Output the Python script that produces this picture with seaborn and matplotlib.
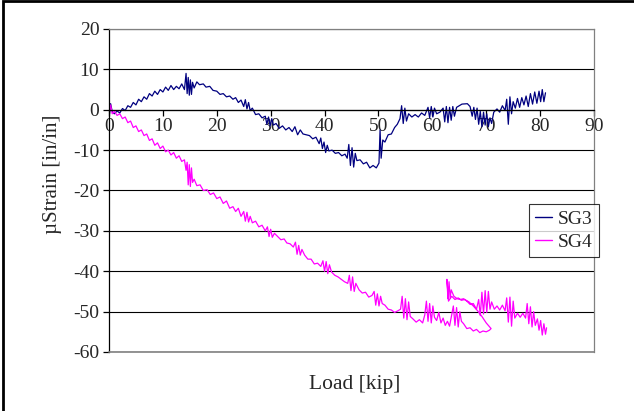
import pandas as pd
import matplotlib
matplotlib.use("Agg")
import matplotlib.pyplot as plt
from matplotlib.patches import Rectangle
import seaborn as sns


# strain gauge readings (load in kip, micro strain)
sg3_load = [0.0, 0.1, 0.3, 0.6, 1.0, 1.5, 2.0, 2.5, 3.0, 3.5, 4.0, 4.5, 5.0, 5.5, 6.0, 6.5,
            7.0, 7.5, 8.0, 8.5, 9.0, 9.5, 10.0, 10.5, 11.0, 11.5, 12.0, 12.5, 13.0, 13.5,
            14.0, 14.3, 14.5, 14.7, 14.9, 15.1, 15.3, 15.5, 15.8, 16.3, 16.8, 17.5, 18.0,
            18.7, 19.3, 20.0, 20.6, 21.2, 21.8, 22.4, 23.0, 23.5, 24.0, 24.5, 25.0, 25.3,
            25.6, 25.9, 26.2, 26.6, 27.2, 27.8, 28.4, 29.0, 29.3, 29.6, 29.9, 30.2, 30.5,
            31.0, 31.6, 32.2, 32.8, 33.4, 34.0, 34.5, 35.0, 35.5, 36.0, 36.6, 37.2, 37.8,
            38.4, 39.0, 39.3, 39.6, 39.9, 40.2, 40.5, 40.8, 41.4, 42.0, 42.6, 43.2, 43.8,
            44.2, 44.5, 44.8, 45.1, 45.4, 45.7, 46.0, 46.6, 47.2, 47.8, 48.4, 49.0, 49.6,
            50.1, 50.3, 50.5, 50.8, 51.2, 51.8, 52.4, 53.0, 53.5, 54.0, 54.3, 54.6, 54.9,
            55.2, 55.6, 56.2, 56.8, 57.4, 58.0, 58.6, 59.2, 59.5, 59.8, 60.1, 60.4, 60.8,
            61.4, 62.0, 62.3, 62.6, 62.9, 63.2, 63.5, 63.8, 64.1, 64.5, 65.5, 66.5, 67.0,
            67.4, 67.7, 68.0, 68.3, 68.6, 68.9, 69.2, 69.5, 69.8, 70.1, 70.4, 70.7, 71.0,
            71.4, 72.0, 72.5, 73.0, 73.5, 73.8, 74.1, 74.4, 74.7, 75.0, 75.4, 75.8, 76.2,
            76.6, 77.0, 77.4, 77.8, 78.2, 78.6, 79.0, 79.4, 79.8, 80.1, 80.4, 80.7, 81.0]
sg3_strain = [2.5, -1.0, 1.5, -0.5, -1.0, -0.3, -0.8, 0.3, -0.2, 1.0, 0.6, 1.8, 1.2, 2.6, 2.0, 3.2,
              2.6, 4.0, 3.4, 4.6, 3.8, 5.0, 4.4, 5.6, 4.8, 6.0, 5.0, 5.8, 5.2, 6.4,
              5.0, 9.0, 4.0, 8.0, 3.6, 7.4, 3.8, 6.8, 5.4, 6.9, 6.2, 6.4, 5.6,
              5.8, 4.8, 4.6, 3.8, 4.0, 3.2, 3.4, 2.6, 3.0, 1.8, 2.4, 0.8, 2.5,
              0.2, 1.8, -0.2, 0.4, -1.2, -1.0, -2.0, -1.6, -3.6, -1.8, -4.0, -2.2, -3.8,
              -3.4, -4.6, -4.0, -5.0, -4.4, -5.4, -4.2, -6.2, -5.0, -6.0, -6.2, -6.4, -7.2,
              -6.8, -8.4, -7.0, -9.6, -8.0, -10.6, -8.8, -10.2, -10.0, -10.8, -10.6, -11.4, -11.0,
              -12.0, -8.6, -13.8, -9.4, -14.2, -10.8, -12.6, -12.4, -13.4, -13.0, -14.4, -13.8, -14.4,
              -13.2, -5.0, -12.0, -7.5, -8.0, -6.2, -6.0, -4.4, -3.6, -2.2, 1.0, -3.4, 0.4,
              -2.8, -1.0, -1.8, -1.2, -1.8, -0.8, -1.4, 0.6, -2.0, 0.8, -1.8, 0.4, -1.0,
              -0.6, 0.4, -3.0, 0.8, -3.2, 0.6, -2.6, 0.8, -1.6, 0.6, 1.4, 1.5, 0.8,
              -1.6, 0.6, -2.4, 0.4, -3.6, -0.4, -4.2, -0.6, -3.8, -1.0, -4.2, -2.0, -3.4,
              -0.6, 0.2, -0.6, 1.0, -0.2, 2.6, -3.6, 3.2, -1.0, 2.0, 0.4, 2.8, 0.6,
              3.0, 1.2, 3.4, 0.8, 4.0, 1.4, 4.4, 1.6, 4.6, 2.0, 5.0, 2.0, 4.2]

sg4_load = [0.0, 0.1, 0.3, 0.6, 1.0, 1.5, 2.0, 2.5, 3.0, 3.5, 4.0, 4.5, 5.0, 5.5, 6.0, 6.5,
            7.0, 7.5, 8.0, 8.5, 9.0, 9.5, 10.0, 10.5, 11.0, 11.5, 12.0, 12.5, 13.0, 13.5,
            14.0, 14.3, 14.5, 14.7, 14.9, 15.1, 15.3, 15.5, 15.8, 16.3, 16.9, 17.5, 18.2,
            18.8, 19.4, 20.0, 20.6, 21.2, 21.8, 22.4, 23.0, 23.5, 24.0, 24.5, 25.0, 25.3,
            25.6, 25.9, 26.2, 26.6, 27.2, 27.8, 28.4, 29.0, 29.4, 29.7, 30.0, 30.3, 30.7,
            31.3, 31.9, 32.5, 33.0, 33.6, 34.2, 34.6, 34.9, 35.2, 35.5, 35.8, 36.3, 36.9,
            37.5, 38.1, 38.7, 39.3, 39.7, 40.0, 40.3, 40.6, 40.9, 41.3, 41.9, 42.5, 43.1,
            43.7, 44.3, 44.6, 44.9, 45.2, 45.5, 45.8, 46.4, 47.0, 47.6, 48.2, 48.8, 49.2,
            49.5, 49.8, 50.1, 50.4, 50.7, 51.2, 51.8, 52.4, 53.0, 53.6, 54.1, 54.4, 54.7,
            55.0, 55.3, 55.6, 55.9, 56.4, 57.0, 57.6, 58.2, 58.6, 58.9, 59.2, 59.5, 59.8,
            60.1, 60.4, 60.8, 61.2, 61.6, 62.0, 62.4, 62.8, 63.2, 63.6, 63.9, 64.2, 64.5,
            64.8, 65.1, 65.4, 65.8, 66.4, 67.0, 67.6, 68.2, 68.8, 69.4, 70.0, 70.6, 70.9,
            70.0, 69.2, 68.4, 67.6, 66.8, 66.0, 65.4, 64.8, 64.2, 63.6, 63.0, 62.7, 62.9,
            63.1, 63.3, 63.5, 64.0, 64.6, 65.2, 65.8, 66.4, 67.0, 67.6, 68.2, 68.6, 68.9,
            69.2, 69.5, 69.8, 70.1, 70.4, 70.7, 71.0, 71.5, 72.0, 72.5, 73.0, 73.5, 73.8,
            74.1, 74.4, 74.7, 75.0, 75.3, 75.8, 76.3, 76.8, 77.3, 77.6, 77.9, 78.2, 78.5,
            78.8, 79.1, 79.5, 79.8, 80.1, 80.4, 80.7, 81.0, 81.2]
sg4_strain = [2.5, -0.5, 1.2, -1.0, -0.4, -1.4, -1.0, -2.2, -1.8, -3.2, -2.8, -4.4, -4.0, -5.4, -5.0, -6.4,
              -6.0, -7.6, -7.2, -8.8, -8.2, -9.6, -9.0, -10.4, -10.0, -11.2, -10.6, -12.0, -11.4, -12.8,
              -12.4, -15.0, -13.0, -18.6, -13.6, -19.0, -14.4, -18.0, -17.2, -18.8, -18.6, -20.0, -19.8,
              -21.0, -20.6, -22.0, -21.6, -23.2, -22.6, -24.4, -24.0, -25.2, -24.4, -26.4, -25.2, -27.6,
              -25.4, -27.8, -26.4, -28.0, -27.6, -29.0, -28.6, -30.0, -29.0, -31.4, -29.6, -31.6, -30.6,
              -31.4, -32.2, -32.0, -33.0, -33.2, -34.0, -32.8, -35.8, -33.6, -36.0, -34.6, -36.0, -37.0,
              -37.0, -38.2, -38.0, -38.8, -37.4, -40.0, -37.6, -40.6, -38.4, -40.2, -41.0, -41.4, -42.0,
              -42.6, -43.0, -41.0, -44.8, -41.4, -45.0, -43.0, -44.6, -45.4, -45.2, -46.4, -46.0, -45.0,
              -48.4, -45.6, -48.6, -46.2, -48.0, -48.4, -49.4, -49.6, -50.2, -49.8, -49.4, -46.2, -51.6,
              -46.8, -52.0, -47.6, -51.2, -51.8, -52.6, -52.0, -52.8, -50.8, -47.4, -52.4, -48.0, -52.8,
              -48.6, -51.4, -52.2, -50.2, -52.8, -51.6, -53.4, -52.4, -53.6, -50.8, -48.6, -53.4, -49.0,
              -53.8, -50.0, -52.4, -53.0, -54.2, -54.0, -54.8, -54.4, -55.2, -54.8, -55.0, -54.6, -54.2,
              -52.8, -51.2, -49.8, -48.6, -47.6, -47.0, -47.2, -46.6, -47.0, -46.2, -47.4, -42.0, -46.8,
              -42.6, -46.6, -44.6, -46.2, -46.8, -47.0, -46.8, -47.4, -48.2, -48.0, -49.4, -47.0, -51.0,
              -45.2, -50.6, -44.8, -50.2, -45.0, -49.4, -47.6, -49.4, -48.6, -49.6, -48.4, -49.8, -46.6,
              -52.6, -46.4, -53.6, -47.4, -51.6, -50.4, -51.4, -50.4, -51.6, -48.0, -53.0, -48.8, -53.8,
              -50.0, -53.4, -51.8, -54.6, -52.2, -55.8, -53.0, -55.6, -54.0]

y_ticks = [20, 10, 0, -10, -20, -30, -40, -50, -60]
x_ticks = [0, 10, 20, 30, 40, 50, 60, 70, 80, 90]


def main():
    series = {
        "SG3": (sg3_load, sg3_strain, "#000080"),
        "SG4": (sg4_load, sg4_strain, "#FF00FF"),
    }

    sns.set_style("white")
    plt.rcParams['font.family'] = ['Liberation Serif', 'DejaVu Serif']
    plt.rcParams['axes.unicode_minus'] = False

    fig = plt.figure(figsize=(6.34, 4.11), dpi=100)
    ax = fig.add_axes([109 / 634, 1 - 352 / 411, 485 / 634, 323 / 411])

    for name, (load, strain, color) in series.items():
        df = pd.DataFrame({"Load": load, "Strain": strain})
        sns.lineplot(data=df, x="Load", y="Strain", sort=False, estimator=None,
                     ax=ax, color=color, linewidth=0.9, label=name)

    ax.set_xlim(0, 90)
    ax.set_ylim(-60, 20)
    ax.set_yticks(y_ticks)
    ax.set_xticks(x_ticks)
    for t in y_ticks:
        ax.axhline(t, color="black", linewidth=0.8, zorder=0)

    ax.spines['left'].set_color("black")
    ax.spines['left'].set_linewidth(0.9)
    ax.spines['bottom'].set_position(('data', 0))
    ax.spines['bottom'].set_color("black")
    ax.spines['bottom'].set_linewidth(0.9)
    for s in ['top', 'right']:
        ax.spines[s].set_color("#808080")
        ax.spines[s].set_linewidth(0.9)
    ax.plot([0, 1], [0, 0], transform=ax.transAxes, color="#808080",
            linewidth=1.2, clip_on=False, zorder=3)

    ax.tick_params(axis='y', direction='out', length=4, width=0.9, color='black',
                   labelsize=14, pad=3, left=True)
    ax.tick_params(axis='x', direction='out', length=4, width=0.9, color='black',
                   labelsize=14, pad=2, bottom=True)

    ax.set_xlabel("Load [kip]", fontsize=15.5)
    ax.xaxis.set_label_coords(0.507, -0.102)
    ax.xaxis.label.set_va('center')
    ax.set_ylabel("µStrain [in/in]", fontsize=15)
    ax.yaxis.set_label_coords(-0.1175, 0.55)
    ax.yaxis.label.set_va('center')

    leg = ax.legend(loc='upper left', bbox_to_anchor=(0.866, 0.458), fontsize=14,
                    frameon=True, fancybox=False, shadow=False, handlelength=0.9,
                    handletextpad=0.3, borderpad=0.3, labelspacing=0.3,
                    borderaxespad=0)
    leg.get_frame().set_edgecolor("black")
    leg.get_frame().set_linewidth(0.8)
    for line in leg.get_lines():
        line.set_linewidth(1.0)

    # outer frame of the chart sheet (only top and left edges fall inside the image)
    fig.patches.append(Rectangle((3 / 634, -0.5), 2.0, 1.5 - 1.5 / 411,
                                 transform=fig.transFigure, fill=False,
                                 edgecolor="black", linewidth=2.0))

    fig.savefig("out.png", dpi=100)


if __name__ == "__main__":
    main()
